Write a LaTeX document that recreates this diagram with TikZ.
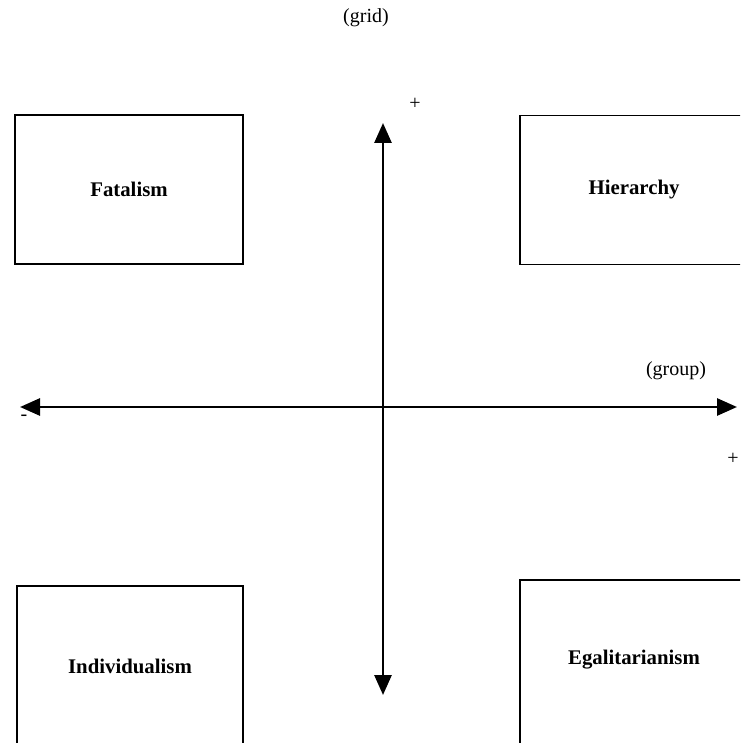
\documentclass[tikz,border=0pt]{standalone}
\usepackage{fontspec}
\setmainfont{Liberation Serif}
\usepackage{tikz}
\usetikzlibrary{arrows.meta}

\begin{document}
\begin{tikzpicture}[x=0.5pt, y=-0.5pt, font=\normalsize,
  culture/.style={draw, line width=0.9pt, align=center, minimum width=114pt, minimum height=74.5pt, font=\fontsize{10.4}{12}\selectfont\bfseries},
  axis/.style={{Triangle[length=10pt, width=8.5pt]}-{Triangle[length=10pt, width=8.5pt]}, line width=1.4pt},
  tag/.style={inner sep=0pt}]
\useasboundingbox (0,0) rectangle (740,743);
\clip (0,0) rectangle (740,743);

% quadrants
\node[culture] (fatal) at (129,189.5) {Fatalism};
\node[culture] (hier) at (634,190) {Hierarchy};
\node[culture, minimum width=113pt, minimum height=80pt] (indiv) at (130,666) {Individualism};
\node[culture, minimum height=90pt, text depth=13pt] (egal) at (634,670) {Egalitarianism};

% axes
\coordinate (gridtop) at (383,123);
\coordinate (gridbot) at (383,695);
\coordinate (groupleft) at (20,407);
\coordinate (groupright) at (737,407);
\draw[axis] (gridbot) -- (gridtop);
\draw[axis] (groupleft) -- (groupright);

% axis labels
\node[tag] (gridlbl) at (366,18) {(grid)};
\node[tag] (gridplus) at (415,104) {+};
\node[tag] (grouplbl) at (676,371) {(group)};
\node[tag] (groupminus) at (24,418) {-};
\node[tag] (groupplus) at (733,459) {+};
\end{tikzpicture}
\end{document}
